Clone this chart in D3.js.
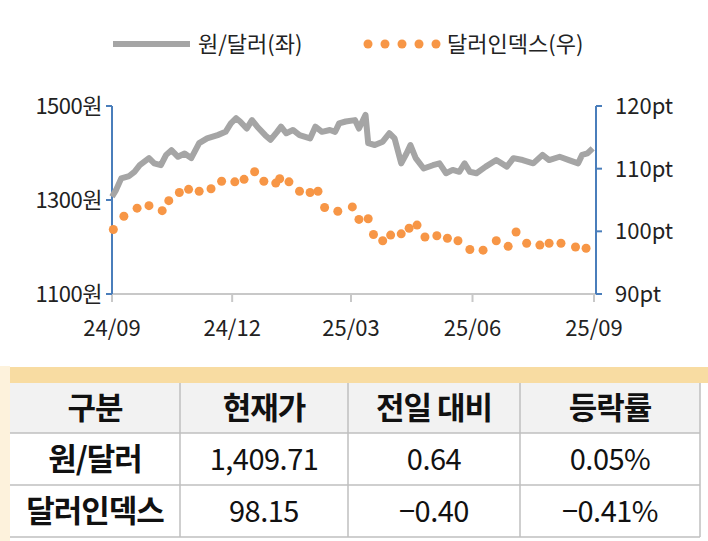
<!DOCTYPE html>
<html><head><meta charset="utf-8">
<script src="https://cdn.jsdelivr.net/npm/d3@7"></script>
<style>body{margin:0;background:#fff}svg{display:block}</style>
</head><body><div id="chart"></div>
<script>
const krwDates = ["2024-09-01","2024-09-04","2024-09-08","2024-09-14","2024-09-18","2024-09-22","2024-09-29","2024-10-03","2024-10-08","2024-10-12","2024-10-16","2024-10-21","2024-10-26","2024-10-31","2024-11-06","2024-11-12","2024-11-20","2024-11-26","2024-11-30","2024-12-04","2024-12-07","2024-12-12","2024-12-16","2024-12-20","2024-12-26","2024-12-30","2025-01-04","2025-01-07","2025-01-11","2025-01-16","2025-01-21","2025-01-29","2025-02-02","2025-02-07","2025-02-13","2025-02-17","2025-02-20","2025-02-25","2025-03-04","2025-03-07","2025-03-12","2025-03-14","2025-03-19","2025-03-25","2025-03-30","2025-04-03","2025-04-08","2025-04-12","2025-04-15","2025-04-19","2025-04-25","2025-05-02","2025-05-07","2025-05-12","2025-05-17","2025-05-22","2025-05-26","2025-05-30","2025-06-04","2025-06-11","2025-06-19","2025-06-27","2025-07-02","2025-07-09","2025-07-17","2025-07-24","2025-07-29","2025-08-06","2025-08-13","2025-08-20","2025-08-23","2025-08-27","2025-08-31"];
const krwValues = [1307,1321,1346,1351,1360,1374,1389,1378,1374,1396,1406,1392,1399,1389,1421,1431,1438,1445,1463,1474,1467,1452,1470,1456,1438,1428,1445,1456,1442,1449,1438,1431,1456,1445,1449,1445,1463,1467,1470,1452,1481,1421,1417,1424,1442,1431,1378,1399,1417,1389,1367,1374,1378,1357,1364,1360,1378,1360,1357,1371,1385,1371,1389,1385,1378,1396,1385,1392,1385,1378,1396,1399,1410];
const dxyDates = ["2024-09-02","2024-09-10","2024-09-20","2024-09-29","2024-10-09","2024-10-14","2024-10-22","2024-10-29","2024-11-06","2024-11-15","2024-11-23","2024-12-03","2024-12-10","2024-12-18","2024-12-25","2025-01-03","2025-01-06","2025-01-13","2025-01-21","2025-01-29","2025-02-04","2025-02-09","2025-02-19","2025-03-02","2025-03-07","2025-03-14","2025-03-18","2025-03-25","2025-03-31","2025-04-08","2025-04-14","2025-04-20","2025-04-26","2025-05-05","2025-05-13","2025-05-21","2025-05-30","2025-06-09","2025-06-19","2025-06-28","2025-07-04","2025-07-12","2025-07-22","2025-07-29","2025-08-07","2025-08-18","2025-08-26"];
const dxyValues = [100.3,102.4,103.7,104.1,103.3,104.9,106.2,106.7,106.4,106.8,108.0,107.9,108.3,109.5,108.0,107.7,108.4,107.9,106.4,106.2,106.4,103.8,103.2,103.9,101.9,102.0,99.5,98.5,99.4,99.6,100.5,101.0,99.1,99.3,98.9,98.5,97.1,97.0,98.5,97.6,99.9,98.1,97.8,98.1,98.1,97.5,97.3];
const xTicks = ["2024-09-01","2024-12-01","2025-03-01","2025-06-01","2025-09-01"];
const leftTicks = [1100,1300,1500];
const rightTicks = [90,100,110,120];
const tableHead = ["구분","현재가","전일 대비","등락률"];
const tableRows = [["원/달러","1,409.71","0.64","0.05%"],["달러인덱스","98.15","−0.40","−0.41%"]];

const W = 708, H = 541;
const parse = d3.timeParse("%Y-%m-%d");
const svg = d3.select("#chart").append("svg").attr("width", W).attr("height", H);
const font = "'Noto Sans CJK KR', sans-serif";

const x = d3.scaleTime().domain([parse(xTicks[0]), parse(xTicks[4])]).range([112, 594]);
const yL = d3.scaleLinear().domain([1100, 1500]).range([294, 106]);
const yR = d3.scaleLinear().domain([90, 120]).range([294, 106]);
const blue = "#4a7ebb";

// x axis
svg.append("line").attr("x1", 112).attr("x2", 596).attr("y1", 294).attr("y2", 294)
  .attr("stroke", "#c8c8c8").attr("stroke-width", 2);
xTicks.forEach(t => {
  const px = x(parse(t));
  svg.append("line").attr("x1", px).attr("x2", px).attr("y1", 294).attr("y2", 302)
    .attr("stroke", "#c8c8c8").attr("stroke-width", 2);
  svg.append("text").attr("x", px).attr("y", 336).attr("text-anchor", "middle")
    .attr("font-family", font).attr("font-size", 22).attr("fill", "#222")
    .text(d3.timeFormat("%y/%m")(parse(t)));
});

// left axis
svg.append("line").attr("x1", 112).attr("x2", 112).attr("y1", 106).attr("y2", 294).attr("stroke", blue).attr("stroke-width", 2);
leftTicks.forEach(t => {
  svg.append("line").attr("x1", 106).attr("x2", 112).attr("y1", yL(t)).attr("y2", yL(t)).attr("stroke", blue).attr("stroke-width", 2);
  svg.append("text").attr("x", 102).attr("y", yL(t) + 8).attr("text-anchor", "end")
    .attr("font-family", font).attr("font-size", 22).attr("letter-spacing", -0.5).attr("fill", "#222").text(t + "원");
});
// right axis
svg.append("line").attr("x1", 596).attr("x2", 596).attr("y1", 106).attr("y2", 294).attr("stroke", blue).attr("stroke-width", 2);
rightTicks.forEach(t => {
  svg.append("line").attr("x1", 596).attr("x2", 602).attr("y1", yR(t)).attr("y2", yR(t)).attr("stroke", blue).attr("stroke-width", 2);
  svg.append("text").attr("x", 615).attr("y", yR(t) + 8)
    .attr("font-family", font).attr("font-size", 22).attr("fill", "#222").text(t + "pt");
});

// series
const line = d3.line().x((d, i) => x(parse(krwDates[i]))).y(d => yL(d));
svg.append("path").datum(krwValues).attr("d", line).attr("fill", "none")
  .attr("stroke", "#a5a5a5").attr("stroke-width", 6).attr("stroke-linejoin", "round");
svg.selectAll("circle.dxy").data(dxyValues).enter().append("circle").attr("class", "dxy")
  .attr("cx", (d, i) => x(parse(dxyDates[i]))).attr("cy", d => yR(d)).attr("r", 4.5).attr("fill", "#f79646");

// legend
svg.append("line").attr("x1", 113).attr("x2", 190).attr("y1", 44).attr("y2", 44).attr("stroke", "#a5a5a5").attr("stroke-width", 6);
svg.append("text").attr("x", 198).attr("y", 52).attr("font-family", font).attr("font-size", 22).attr("fill", "#222").text("원/달러(좌)");
d3.range(5).forEach(i => svg.append("circle").attr("cx", 368 + i * 17).attr("cy", 44).attr("r", 4.5).attr("fill", "#f79646"));
svg.append("text").attr("x", 447).attr("y", 52).attr("font-family", font).attr("font-size", 22).attr("fill", "#222").text("달러인덱스(우)");

// table
svg.append("rect").attr("x", 0).attr("y", 366).attr("width", 10).attr("height", 175).attr("fill", "#fdf2dc");
svg.append("rect").attr("x", 10).attr("y", 367).attr("width", 698).attr("height", 16).attr("fill", "#f8dca2");
svg.append("rect").attr("x", 10).attr("y", 383).attr("width", 690).attr("height", 50).attr("fill", "#f2f2f2");
const colX = [10, 180, 348, 520, 700];
const rowY = [383, 433, 485, 537];
colX.slice(1).forEach(cx => svg.append("line").attr("x1", cx).attr("x2", cx).attr("y1", 383).attr("y2", 537).attr("stroke", "#bfbfbf").attr("stroke-width", 1.5));
rowY.slice(1).forEach(ry => svg.append("line").attr("x1", 10).attr("x2", 700).attr("y1", ry).attr("y2", ry).attr("stroke", "#bfbfbf").attr("stroke-width", 1.5));
[tableHead, ...tableRows].forEach((row, r) => {
  row.forEach((cell, c) => {
    const bold = r === 0 || c === 0;
    svg.append("text").attr("x", (colX[c] + colX[c + 1]) / 2).attr("y", (rowY[r] + rowY[r + 1]) / 2 + 11)
      .attr("text-anchor", "middle").attr("font-family", font)
      .attr("font-size", bold ? 31 : 29)
      .attr("font-weight", bold ? "bold" : "normal")
      .attr("letter-spacing", bold ? -1 : -0.5)
      .attr("fill", "#111").text(cell);
  });
});
</script></body></html>
